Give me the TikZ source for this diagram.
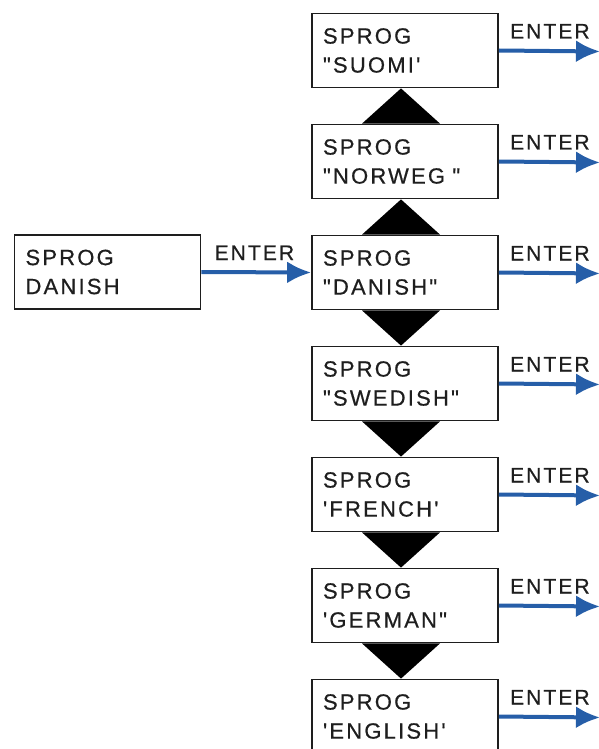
\documentclass[tikz,border=0pt]{standalone}
\usepackage{fontspec}
\setmainfont{Liberation Sans}[Ligatures=TeXOff]
\usepackage{tikz}
\usetikzlibrary{arrows.meta, positioning}
\definecolor{SPBlue}{RGB}{38, 94, 168}
\definecolor{SPInk}{RGB}{30, 30, 30}

\tikzset{
  langbox/.style={draw=SPInk, text=SPInk, line width=1.8pt, minimum width=186pt, minimum height=74pt,
    text width=164pt, inner xsep=11pt, align=left,
    font=\fontsize{22}{29}\selectfont\addfontfeatures{LetterSpace=10, FakeBold=0.6}},
  enterarrow/.style={-{Latex[length=24pt,width=22pt]}, line width=4pt, SPBlue},
  enterlabel/.style={anchor=base west, text=SPInk, inner sep=0pt,
    font=\fontsize{21}{24}\selectfont\addfontfeatures{LetterSpace=10, FakeBold=0.6}}
}

\begin{document}
\begin{tikzpicture}[x=1pt, y=-1pt]
  \useasboundingbox (0,0) rectangle (598,749);

  % Language chain
  \foreach \i/\lang in {0/"SUOMI', 1/"NORWEG ", 2/"DANISH", 3/"SWEDISH", 4/'FRENCH', 5/'GERMAN", 6/'ENGLISH'} {
    \node[langbox] (lang\i) at (405, 50.5+111*\i) {SPROG\\\lang};
  }

  % Triangles between the boxes
  \foreach \i/\j in {0/1, 1/2}
    \fill[black] ([xshift=-4pt]lang\i.south) -- ([xshift=-43pt]lang\j.north) -- ([xshift=35pt]lang\j.north) -- cycle;
  \foreach \i/\j in {2/3, 3/4, 4/5, 5/6}
    \fill[black] ([xshift=-43pt]lang\i.south) -- ([xshift=35pt]lang\i.south) -- ([xshift=-4pt]lang\j.north) -- cycle;

  % Input
  \node[langbox] (input) at (107.5, 272) {SPROG\\DANISH};
  \draw[enterarrow] (input.east) -- (lang2.west);
  \node[enterlabel] (enterin) at ([xshift=13pt, yshift=12pt]input.east) {ENTER};

  % Outputs
  \foreach \i in {0,...,6} {
    \coordinate (out\i) at (600, 51.5+111*\i);
    \draw[enterarrow] (lang\i.east) -- (out\i);
    \node[enterlabel] (enter\i) at ([xshift=11pt, yshift=12pt]lang\i.east) {ENTER};
  }
\end{tikzpicture}
\end{document}
